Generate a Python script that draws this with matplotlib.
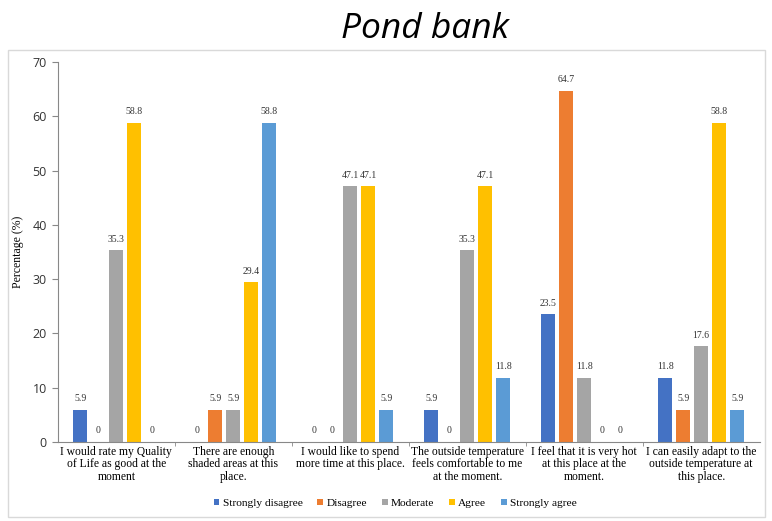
import numpy as np
import matplotlib
matplotlib.use('Agg')
import matplotlib.pyplot as plt
from matplotlib.patches import Rectangle

# categories and series
categories = [
    'I would rate my Quality\nof Life as good at the\nmoment',
    'There are enough\nshaded areas at this\nplace.',
    'I would like to spend\nmore time at this place.',
    'The outside temperature\nfeels comfortable to me\nat the moment.',
    'I feel that it is very hot\nat this place at the\nmoment.',
    'I can easily adapt to the\noutside temperature at\nthis place.',
]
series_names = ['Strongly disagree', 'Disagree', 'Moderate', 'Agree', 'Strongly agree']
strongly_disagree = [5.9, 0, 0, 5.9, 23.5, 11.8]
disagree = [0, 5.9, 0, 0, 64.7, 5.9]
moderate = [35.3, 5.9, 47.1, 35.3, 11.8, 17.6]
agree = [58.8, 29.4, 47.1, 47.1, 0, 58.8]
strongly_agree = [0, 58.8, 5.9, 11.8, 0, 5.9]
series = [strongly_disagree, disagree, moderate, agree, strongly_agree]
colors = ['#4472C4', '#ED7D31', '#A5A5A5', '#FFC000', '#5B9BD5']

serif = 'Liberation Serif'

fig = plt.figure(figsize=(7.72, 5.21), dpi=100)
# outer chart frame
fig.patches.append(Rectangle((8 / 772, 4 / 521), 757 / 772, 467 / 521,
                             transform=fig.transFigure, fill=False,
                             edgecolor='#d9d9d9', linewidth=1.0))
fig.text(0.550, 0.945, 'Pond bank', ha='center', va='center',
         fontsize=25.5, style='italic', family='Open Sans')

ax = fig.add_axes([0.075, 0.152, 0.909, 0.729])
x = np.arange(len(categories))
step = 0.154
width = 0.12
for i, (name, vals, c) in enumerate(zip(series_names, series, colors)):
    pos = x + (i - 2) * step
    ax.bar(pos, vals, width, color=c, label=name)
    for p, v in zip(pos, vals):
        txt = '0' if v == 0 else f'{v:.1f}'
        ax.text(p, v + 1.2, txt, ha='center', va='bottom',
                fontsize=7, family=serif, color='#333333')

ax.set_xlim(-0.5, len(categories) - 0.5)
ax.set_ylim(0, 70)
ax.set_yticks(range(0, 71, 10))
ax.tick_params(axis='y', labelsize=9, length=4, color='#888888', pad=4,
               labelcolor='#333333')
for lab in ax.get_yticklabels():
    lab.set_family('Open Sans')
ax.set_xticks(x)
ax.set_xticklabels(categories, family=serif, fontsize=8.4, linespacing=1.05)
ax.tick_params(axis='x', length=0, pad=3)
ax.set_xticks(np.arange(0.5, len(categories) - 0.5, 1), minor=True)
ax.tick_params(axis='x', which='minor', length=3, color='#888888')
for s in ['top', 'right']:
    ax.spines[s].set_visible(False)
for s in ['left', 'bottom']:
    ax.spines[s].set_color('#888888')
ax.set_ylabel('Percentage (%)', family=serif, fontsize=8.5, labelpad=6)

leg = fig.legend(loc='center', bbox_to_anchor=(0.512, 0.034), ncol=5,
                 frameon=False, prop={'family': serif, 'size': 8.2},
                 handlelength=0.5, handleheight=0.5, handletextpad=0.3,
                 columnspacing=1.3)

fig.savefig('out.png', dpi=100)
